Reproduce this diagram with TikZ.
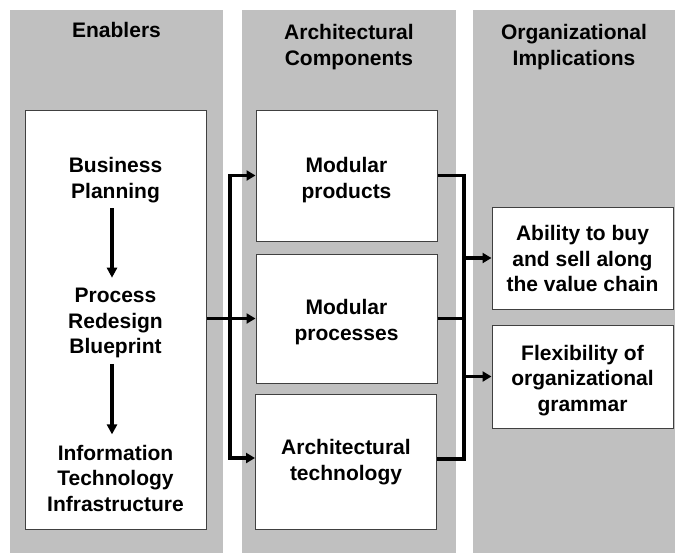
\documentclass[tikz,border=0pt]{standalone}
\usepackage{fontspec}
\setmainfont{Liberation Sans}
\usetikzlibrary{arrows.meta}
\definecolor{colgray}{HTML}{C0C0C0}
\definecolor{boxline}{HTML}{404040}
\begin{document}
\begin{tikzpicture}[x=0.5pt, y=-0.5pt, every node/.style={inner sep=0pt, align=center, font=\bfseries\fontsize{10.5}{12.75}\selectfont}, box/.style={draw=boxline, fill=white, line width=0.5pt, minimum width=90.5pt}, conn/.style={line width=1.6pt, -{Triangle[length=4.5pt,width=5pt]}}, link/.style={line width=1.6pt}, flow/.style={line width=1.6pt, -{Triangle[length=5pt,width=5pt]}, shorten <=2.75pt, shorten >=5pt}]
		\useasboundingbox (0,0) rectangle (675,553);
		\fill[colgray] (10,10) rectangle (223,553);
		\fill[colgray] (242,10) rectangle (456,553);
		\fill[colgray] (473,10) rectangle (675,553);
		\node (enablershead) at (116.5,30) [] {Enablers};
		\node (componentshead) at (349,47) [] {Architectural\\Components};
		\node (implicationshead) at (574,47) [] {Organizational\\Implications};
		\node[box, minimum height=209.5pt] (enablers) at (115.5,319.5) {};
		\node[box, minimum height=65.5pt] (products) at (346.5,175.5) {};
		\node[box, minimum height=64.5pt] (processes) at (346.5,318.5) {};
		\node[box, minimum height=67.5pt] (technology) at (346,461.5) {};
		\node[box, minimum height=51pt] (ability) at (582.5,258) {};
		\node[box, minimum height=51.5pt] (flexibility) at (582.5,376.5) {};
		\node (planning) at (115.5,180) [] {Business\\Planning};
		\node (blueprint) at (115.5,323) [] {Process\\Redesign\\Blueprint};
		\node (infrastructure) at (115.5,478) [] {Information\\Technology\\Infrastructure};
		\draw[flow] ([xshift=-1.75pt]planning.south) -- ([xshift=-1.75pt]blueprint.north);
		\draw[flow] ([xshift=-1.75pt]blueprint.south) -- ([xshift=-1.75pt]infrastructure.north);
		\node (productstext) at (346.5,180) [] {Modular\\products};
		\node (processestext) at (346.5,322) [] {Modular\\processes};
		\node (technologytext) at (346,462) [] {Architectural\\technology};
		\node (abilitytext) at (582.5,258.5) [] {Ability to buy\\and sell along\\the value chain};
		\node (flexibilitytext) at (582.5,380.5) [] {Flexibility of\\organizational\\grammar};
		\coordinate (split) at (230,318.5);
		\coordinate (join) at (464,318.5);
		\draw[conn] (enablers.east |- processes) -- (processes.west);
		\draw[conn] (split) |- (products.west);
		\draw[conn] (split) |- ([yshift=1.75pt]technology.west);
		\draw[link] (products.east) -| (join) |- ([yshift=1.25pt]technology.east);
		\draw[link] (processes.east) -- (join);
		\draw[conn] (join |- ability.west) -- (ability.west);
		\draw[conn] (join |- flexibility.west) -- (flexibility.west);
	\end{tikzpicture}
\end{document}
